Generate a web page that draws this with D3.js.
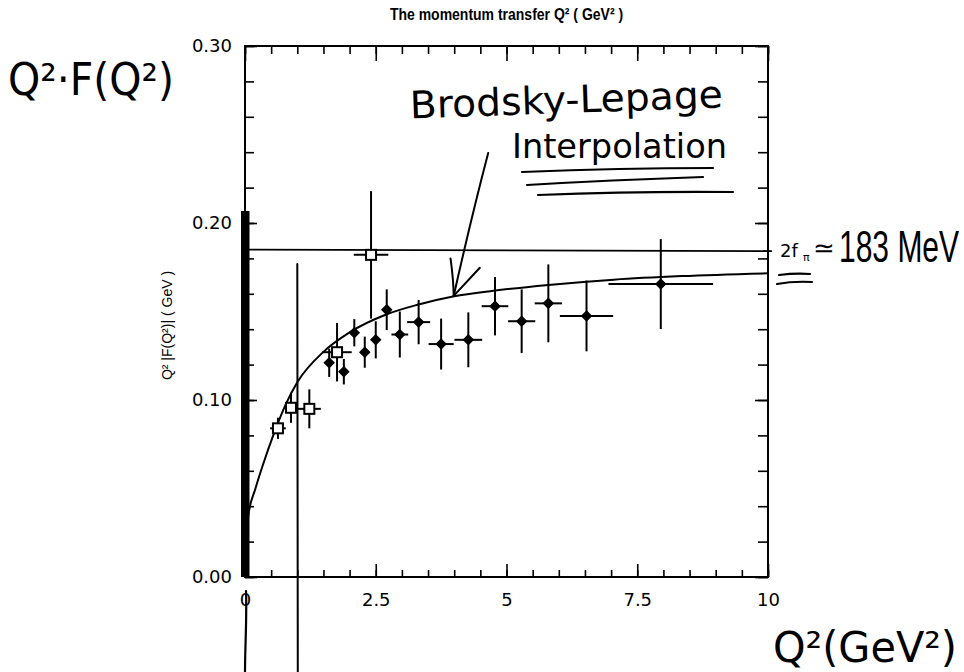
<!DOCTYPE html>
<html>
<head>
<meta charset="utf-8">
<script src="https://cdn.jsdelivr.net/npm/d3@7"></script>
<style>
  html, body { margin: 0; padding: 0; background: #fff; }
  svg { display: block; }
</style>
</head>
<body>
<script>
// Q²|F(Q²)| of the pion: two data sets with error bars, the
// Brodsky-Lepage interpolation and the 2fπ asymptote.

// open squares
const openQ2   = [0.63, 0.88, 1.23, 1.76, 2.41];
const openVal  = [0.084, 0.0956, 0.095, 0.127, 0.182];
const openErrY = [0.006, 0.0085, 0.011, 0.0165, 0.036];
const openErrX = [0.15, 0.08, 0.22, 0.28, 0.33];

// filled diamonds
const filledQ2   = [1.61, 1.89, 2.09, 2.29, 2.50, 2.71, 2.96, 3.32, 3.75, 4.27, 4.78, 5.29, 5.80, 6.53, 7.95];
const filledVal  = [0.121, 0.116, 0.138, 0.127, 0.134, 0.151, 0.137, 0.144, 0.1316, 0.134, 0.153, 0.1445, 0.1546, 0.1475, 0.1655];
const filledErrY = [0.008, 0.0072, 0.0077, 0.0088, 0.0105, 0.0115, 0.013, 0.0125, 0.0144, 0.0155, 0.0165, 0.018, 0.022, 0.020, 0.0254];
const filledErrX = [0.08, 0.08, 0.08, 0.08, 0.08, 0.08, 0.16, 0.22, 0.24, 0.265, 0.255, 0.26, 0.26, 0.51, 1.0];

// Brodsky-Lepage interpolation curve
const curveQ2  = [0, 0.06, 0.2, 0.35, 0.54, 0.77, 1.0, 1.5, 2.0, 2.7, 3.3, 4.0, 4.75, 5.8, 7.05, 8.35, 10];
const curveVal = [0, 0.034, 0.050, 0.064, 0.080, 0.097, 0.110, 0.1272, 0.1382, 0.1483, 0.1538, 0.1586, 0.1617, 0.165, 0.168, 0.170, 0.1716];

// asymptote 2fπ
const asymptote = 0.185;

// pen marks: thick bar at Q²=0 and vertical line at Q²=1
const penBar  = { q2: 0, top: 0.2068 };
const penLine = { q2: 1, top: 0.1768 };

// arrow to the curve (Q², value)
const arrowTail = [4.65, 0.2395];
const arrowMid  = [4.33, 0.200];
const arrowTip  = [3.99, 0.1588];
const arrowHeadL = [3.93, 0.180];
const arrowHeadR = [4.49, 0.1747];

// axis ticks
const xTickValues = [0, 2.5, 5, 7.5, 10];
const xTickLabels = ["0", "2.5", "5", "7.5", "10"];
const yTickValues = [0, 0.1, 0.2, 0.3];
const yTickLabels = ["0.00", "0.10", "0.20", "0.30"];

const W = 964, H = 672;
const svg = d3.select("body").append("svg").attr("width", W).attr("height", H);

const x = d3.scaleLinear().domain([0, 10]).range([245, 768]);
const y = d3.scaleLinear().domain([0, 0.30]).range([577, 46]);

const tickFont = "DejaVu Sans, sans-serif";
const handFont = "DejaVu Sans, sans-serif";

// ---- axes -------------------------------------------------------------
const xMinor = d3.range(0, 10.001, 0.5);
const yMinor = d3.range(0, 0.3001, 0.02);

function styleAxis(g) {
  g.select(".domain").remove();
  g.selectAll("line").attr("stroke", "#000").attr("stroke-width", 1.6);
  g.selectAll("text").attr("fill", "#000").attr("font-family", tickFont).attr("font-size", 18);
}

const axB = svg.append("g").attr("transform", `translate(0,${y(0)})`);
axB.append("g").call(d3.axisBottom(x).tickValues(xMinor).tickSize(-7).tickFormat("")).call(styleAxis);
axB.append("g").call(d3.axisBottom(x).tickValues(xTickValues).tickSize(-13).tickPadding(16)
  .tickFormat((d, i) => xTickLabels[i])).call(styleAxis);

const axT = svg.append("g").attr("transform", `translate(0,${y(0.3)})`);
axT.append("g").call(d3.axisTop(x).tickValues(xMinor).tickSize(-8).tickFormat("")).call(styleAxis);
axT.append("g").call(d3.axisTop(x).tickValues(xTickValues).tickSize(-15).tickFormat("")).call(styleAxis);

const axL = svg.append("g").attr("transform", `translate(${x(0)},0)`);
axL.append("g").call(d3.axisLeft(y).tickValues(yMinor).tickSize(-9).tickFormat("")).call(styleAxis);
axL.append("g").call(d3.axisLeft(y).tickValues(yTickValues).tickSize(-12).tickPadding(13)
  .tickFormat((d, i) => yTickLabels[i])).call(styleAxis);

const axR = svg.append("g").attr("transform", `translate(${x(10)},0)`);
axR.append("g").call(d3.axisRight(y).tickValues(yMinor).tickSize(-10).tickFormat("")).call(styleAxis);
axR.append("g").call(d3.axisRight(y).tickValues(yTickValues).tickSize(-13).tickFormat("")).call(styleAxis);

// frame
svg.append("rect")
  .attr("x", x(0)).attr("y", y(0.3))
  .attr("width", x(10) - x(0)).attr("height", y(0) - y(0.3))
  .attr("fill", "none").attr("stroke", "#000").attr("stroke-width", 2);

// title and axis label
svg.append("text")
  .attr("transform", `translate(${(x(0) + x(10)) / 2},20) scale(1,1.15)`)
  .attr("text-anchor", "middle")
  .attr("font-family", "Liberation Sans, Arial, sans-serif")
  .attr("font-size", 14).attr("font-weight", "bold")
  .text("The momentum transfer Q² ( GeV² )");

svg.append("text")
  .attr("transform", `translate(172,${(y(0.3) + y(0)) / 2 + 14}) rotate(-90)`)
  .attr("text-anchor", "middle")
  .attr("font-family", "Liberation Sans, Arial, sans-serif")
  .attr("font-size", 14)
  .text("Q² |F(Q²)| ( GeV )");

// ---- asymptote and curve ------------------------------------------------
svg.append("line")
  .attr("x1", x(0)).attr("x2", x(10) + 4)
  .attr("y1", y(asymptote)).attr("y2", y(asymptote) + 1.5)
  .attr("stroke", "#000").attr("stroke-width", 1.8);

const curvePts = curveQ2.map((q, i) => [q, curveVal[i]]);
svg.append("path")
  .datum(curvePts)
  .attr("fill", "none").attr("stroke", "#000").attr("stroke-width", 2)
  .attr("d", d3.line().x(d => x(d[0])).y(d => y(d[1])).curve(d3.curveMonotoneX));

// ---- data points --------------------------------------------------------
function errorBars(q2, val, ex, ey) {
  const g = svg.append("g").attr("stroke", "#000").attr("stroke-width", 2);
  q2.forEach((q, i) => {
    g.append("line").attr("x1", x(q)).attr("x2", x(q))
      .attr("y1", y(val[i] - ey[i])).attr("y2", y(val[i] + ey[i]));
    g.append("line").attr("x1", x(q - ex[i])).attr("x2", x(q + ex[i]))
      .attr("y1", y(val[i])).attr("y2", y(val[i]));
  });
}
errorBars(filledQ2, filledVal, filledErrX, filledErrY);
errorBars(openQ2, openVal, openErrX, openErrY);

svg.append("g").selectAll("path")
  .data(filledQ2.map((q, i) => [q, filledVal[i]]))
  .join("path")
  .attr("transform", d => `translate(${x(d[0])},${y(d[1])})`)
  .attr("d", d3.symbol(d3.symbolDiamond2, 62))
  .attr("fill", "#000").attr("stroke", "#000").attr("stroke-width", 1.2);

svg.append("g").selectAll("rect")
  .data(openQ2.map((q, i) => [q, openVal[i]]))
  .join("rect")
  .attr("x", d => x(d[0]) - 5).attr("y", d => y(d[1]) - 5)
  .attr("width", 10).attr("height", 10)
  .attr("fill", "#fff").attr("stroke", "#000").attr("stroke-width", 2);

// ---- pen annotations ----------------------------------------------------
const pen = svg.append("g").attr("fill", "none").attr("stroke", "#000")
  .attr("stroke-linecap", "round").attr("stroke-linejoin", "round");

// thick bar at Q² = 0
svg.append("rect")
  .attr("x", x(penBar.q2) - 4).attr("y", y(penBar.top))
  .attr("width", 8.5).attr("height", y(0) - y(penBar.top))
  .attr("fill", "#000");
pen.append("path").attr("stroke-width", 2.2)
  .attr("d", `M${x(0) + 1},${y(0) + 14} C${x(0) + 2},${y(0) + 40} ${x(0)},${y(0) + 70} ${x(0)},${H}`);

// vertical line at Q² = 1
pen.append("line").attr("stroke-width", 2)
  .attr("x1", x(penLine.q2)).attr("x2", x(penLine.q2) + 0.5)
  .attr("y1", y(penLine.top)).attr("y2", H);

// arrow
pen.append("path").attr("stroke-width", 2)
  .attr("d", `M${x(arrowTail[0])},${y(arrowTail[1])} Q${x(arrowMid[0])},${y(arrowMid[1]) - 6} ${x(arrowTip[0])},${y(arrowTip[1])}`);
pen.append("path").attr("stroke-width", 2)
  .attr("d", `M${x(arrowHeadL[0])},${y(arrowHeadL[1])} Q${x(arrowHeadL[0]) + 3},${y(arrowHeadL[1]) + 22} ${x(arrowTip[0])},${y(arrowTip[1])} L${x(arrowHeadR[0])},${y(arrowHeadR[1])}`);

// underlines of the annotation
pen.append("path").attr("stroke-width", 2.2).attr("d", "M522,172 Q620,168 713,168");
pen.append("path").attr("stroke-width", 2.2).attr("d", "M527,185 Q610,180 703,177");
pen.append("path").attr("stroke-width", 2.2).attr("d", "M538,195 Q640,191 733,192");

// "=" under 2fπ
pen.append("path").attr("stroke-width", 2.2).attr("d", "M779,275 Q795,273 810,274");
pen.append("path").attr("stroke-width", 2.2).attr("d", "M777,284 Q793,281 812,282");

const hand = svg.append("g").attr("font-family", handFont).attr("fill", "#000");

hand.append("text").attr("x", 8).attr("y", 95).attr("font-size", 44)
  .attr("textLength", 166).attr("lengthAdjust", "spacingAndGlyphs")
  .text("Q²·F(Q²)");

hand.append("text").attr("x", 410).attr("y", 113).attr("font-size", 38)
  .attr("textLength", 313).attr("lengthAdjust", "spacingAndGlyphs")
  .attr("transform", "rotate(-2 566 105)")
  .text("Brodsky-Lepage");

hand.append("text").attr("x", 512).attr("y", 158).attr("font-size", 33)
  .attr("textLength", 215).attr("lengthAdjust", "spacingAndGlyphs")
  .text("Interpolation");

hand.append("text").attr("x", 780).attr("y", 257).attr("font-size", 18)
  .text("2f");
hand.append("text").attr("x", 803).attr("y", 261).attr("font-size", 11)
  .text("π");
hand.append("text").attr("x", 813).attr("y", 257).attr("font-size", 26)
  .text("≃");
// tall, narrow handwritten value
hand.append("text")
  .attr("transform", "translate(839,262) scale(1,1.45)")
  .attr("font-family", "Liberation Sans, Arial, sans-serif")
  .attr("font-size", 30)
  .text("183 MeV");

hand.append("text").attr("x", 773).attr("y", 662).attr("font-size", 42)
  .attr("textLength", 184).attr("lengthAdjust", "spacingAndGlyphs")
  .text("Q²(GeV²)");
</script>
</body>
</html>
